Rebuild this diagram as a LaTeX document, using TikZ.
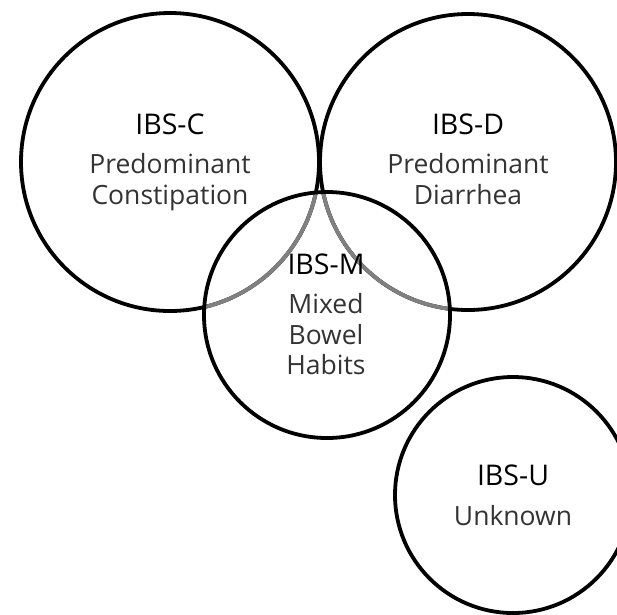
\documentclass[tikz,border=0pt]{standalone}
\usepackage{fontspec}
\setmainfont{Open Sans}
\begin{document}
\begin{tikzpicture}[x=1pt,y=-1pt,
  ring/.style={circle, draw=black, line width=3.8pt, inner sep=0pt},
  inner/.style={draw=black!50, line width=3.8pt},
  title/.style={font=\fontsize{28.5}{30}\selectfont, text=black, anchor=base},
  descr/.style={font=\fontsize{26.5}{30}\selectfont, text=black!80, anchor=base}]
  \useasboundingbox (0,0) rectangle (617,614);
  \clip (0,0) rectangle (617,614);

  % subtype circles
  \node[ring, minimum size=298pt] (C) at (170,162) {};
  \node[ring, minimum size=296pt] (D) at (468,162) {};
  \node[ring, minimum size=118pt*2] (U) at (513,495) {};

  % parts of C and D lying inside the mixed circle are greyed out
  \begin{scope}
    \clip (327,315) circle (123);
    \draw[inner] (170,162) circle (149);
    \draw[inner] (468,162) circle (148);
  \end{scope}
  \node[ring, minimum size=246pt, fill=none] (M) at (327,315) {};

  % labels
  \node[title] (tC) at (170,134) {IBS-C};
  \node[descr] (dC1) at (170,173) {Predominant};
  \node[descr] (dC2) at (170,204) {Constipation};

  \node[title] (tD) at (468,134) {IBS-D};
  \node[descr] (dD1) at (468,173) {Predominant};
  \node[descr] (dD2) at (468,204) {Diarrhea};

  \node[title] (tM) at (326,274) {IBS-M};
  \node[descr] (dM1) at (326,313) {Mixed};
  \node[descr] (dM2) at (326,344) {Bowel};
  \node[descr] (dM3) at (326,374) {Habits};

  \node[title] (tU) at (513,485) {IBS-U};
  \node[descr] (dU) at (513,525) {Unknown};
\end{tikzpicture}
\end{document}
